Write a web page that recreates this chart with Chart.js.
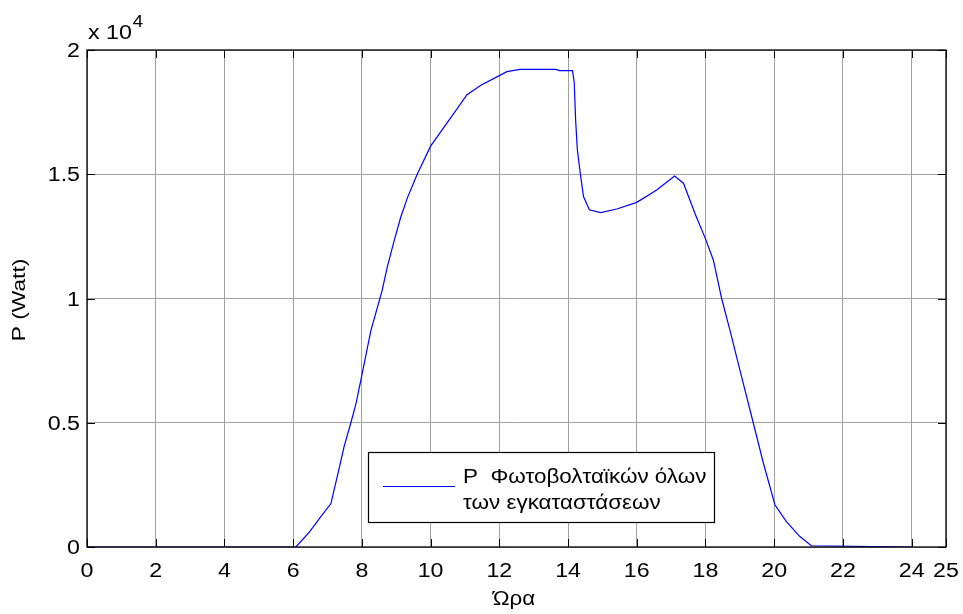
<!DOCTYPE html>
<html>
<head>
<meta charset="utf-8">
<script src="https://cdn.jsdelivr.net/npm/chart.js@4/dist/chart.umd.min.js"></script>
<style>
html,body{margin:0;padding:0;background:#fff;}
#wrap{width:963px;height:614px;position:relative;}
</style>
</head>
<body>
<div id="wrap"><canvas id="c" width="963" height="614"></canvas></div>
<script>
// Data (hour of day, total PV power in Watt)
const hours = [0, 6.08, 6.47, 6.8, 7.1, 7.19, 7.34, 7.48, 7.68, 7.83, 7.97, 8.26, 8.59, 8.74, 8.94, 9.13, 9.33, 9.61, 10.0, 10.48, 11.06, 11.45, 12.0, 12.22, 12.6, 13.65, 13.75, 14.13, 14.18, 14.22, 14.27, 14.35, 14.45, 14.62, 14.95, 15.42, 16.0, 16.58, 17.1, 17.36, 17.7, 18.0, 18.23, 18.47, 18.71, 19.0, 19.39, 19.68, 20.02, 20.35, 20.74, 21.08, 24];
const power = [0, 0, 600, 1210, 1750, 2290, 3170, 4030, 5000, 5780, 6720, 8700, 10330, 11270, 12330, 13270, 14070, 15000, 16130, 17070, 18200, 18570, 18970, 19130, 19220, 19220, 19170, 19170, 18700, 17200, 16000, 15100, 14100, 13570, 13460, 13600, 13870, 14370, 14930, 14640, 13400, 12400, 11540, 10000, 8740, 7130, 5000, 3400, 1700, 1030, 430, 50, 0];
const xTicks = [0, 2, 4, 6, 8, 10, 12, 14, 16, 18, 20, 22, 24, 25];
const yTicks = [0, 5000, 10000, 15000, 20000];
const seriesLabel = ["P  Φωτοβολταϊκών όλων", "των εγκαταστάσεων"];
const xTitle = "Ώρα";
const yTitle = "P (Watt)";
const yExponent = "4";

const FONT = '"Liberation Sans", Arial, sans-serif';
const SX = 1.16; // horizontal stretch of the reference text

function stretchedText(ctx, txt, x, y, align, sx) {
  const w = ctx.measureText(txt).width * sx;
  let x0 = x;
  if (align === 'center') x0 = x - w / 2;
  else if (align === 'right') x0 = x - w;
  ctx.save();
  ctx.translate(x0, y);
  ctx.scale(sx, 1);
  ctx.textAlign = 'left';
  ctx.fillText(txt, 0, 0);
  ctx.restore();
  return w;
}

const decor = {
  id: 'decor',
  afterDraw(chart) {
    const ctx = chart.ctx;
    const a = chart.chartArea;
    const xs = chart.scales.x, ys = chart.scales.y;
    ctx.save();
    // tick marks inside
    ctx.strokeStyle = '#000';
    ctx.lineWidth = 1;
    const tl = 8;
    ctx.beginPath();
    xs.ticks.forEach(t => {
      const px = Math.round(xs.getPixelForValue(t.value)) + 0.5;
      ctx.moveTo(px, a.bottom); ctx.lineTo(px, a.bottom - tl);
      ctx.moveTo(px, a.top); ctx.lineTo(px, a.top + tl);
    });
    ys.ticks.forEach(t => {
      const py = Math.round(ys.getPixelForValue(t.value)) + 0.5;
      ctx.moveTo(a.left, py); ctx.lineTo(a.left + tl, py);
      ctx.moveTo(a.right, py); ctx.lineTo(a.right - tl, py);
    });
    ctx.stroke();
    // box
    ctx.lineWidth = 1.3;
    ctx.strokeRect(a.left, a.top, a.right - a.left, a.bottom - a.top);

    ctx.fillStyle = '#000';
    ctx.textBaseline = 'alphabetic';
    ctx.font = '20px ' + FONT;
    // tick labels
    xs.ticks.forEach(t => {
      stretchedText(ctx, String(t.value), xs.getPixelForValue(t.value), 577, 'center', SX);
    });
    ys.ticks.forEach(t => {
      stretchedText(ctx, String(t.value / 10000), 80, ys.getPixelForValue(t.value) + 7, 'right', SX);
    });

    // exponent label
    const w10 = stretchedText(ctx, 'x 10', 88, 39, 'left', SX);
    ctx.font = '16px ' + FONT;
    stretchedText(ctx, yExponent, 88 + w10 + 1, 27, 'left', SX);

    // x title
    ctx.font = '20px ' + FONT;
    stretchedText(ctx, xTitle, 514, 605, 'center', 1.12);

    // y title
    ctx.save();
    ctx.translate(25, 300);
    ctx.rotate(-Math.PI / 2);
    ctx.font = '17.5px ' + FONT;
    stretchedText(ctx, yTitle, 0, 0, 'center', 1.3);
    ctx.restore();

    // legend
    const lx = 368, ly = 452, lw = 346, lh = 70;
    ctx.fillStyle = '#fff';
    ctx.fillRect(lx, ly, lw, lh);
    ctx.strokeStyle = '#000';
    ctx.lineWidth = 1.2;
    ctx.strokeRect(lx + 0.5, ly + 0.5, lw, lh);
    ctx.strokeStyle = 'rgb(0,0,255)';
    ctx.lineWidth = 1;
    ctx.beginPath();
    ctx.moveTo(383, 486.5); ctx.lineTo(455, 486.5);
    ctx.stroke();
    ctx.fillStyle = '#000';
    ctx.font = '20px ' + FONT;
    stretchedText(ctx, seriesLabel[0], 463, 483, 'left', 1.12);
    stretchedText(ctx, seriesLabel[1], 463, 509, 'left', 1.12);
    ctx.restore();
  }
};

new Chart(document.getElementById('c'), {
  type: 'line',
  data: {
    datasets: [{
      label: seriesLabel.join(' '),
      data: hours.map((h, i) => ({x: h, y: power[i]})),
      borderColor: 'rgb(0,0,255)',
      borderWidth: 1.2,
      pointRadius: 0,
      tension: 0,
      fill: false
    }]
  },
  options: {
    responsive: false,
    animation: false,
    layout: {padding: {top: 50, right: 17, left: 0, bottom: 0}},
    plugins: {legend: {display: false}, tooltip: {enabled: false}},
    scales: {
      x: {
        type: 'linear', min: 0, max: 25,
        afterBuildTicks: s => { s.ticks = xTicks.map(v => ({value: v})); },
        afterFit: s => { s.height = 67; },
        grid: {color: 'rgb(160,160,160)', lineWidth: 1, drawTicks: false},
        border: {display: false},
        ticks: {display: false}
      },
      y: {
        min: 0, max: 20000,
        afterBuildTicks: s => { s.ticks = yTicks.map(v => ({value: v})); },
        afterFit: s => { s.width = 87; },
        grid: {color: 'rgb(160,160,160)', lineWidth: 1, drawTicks: false},
        border: {display: false},
        ticks: {display: false}
      }
    }
  },
  plugins: [decor]
});
</script>
</body>
</html>
